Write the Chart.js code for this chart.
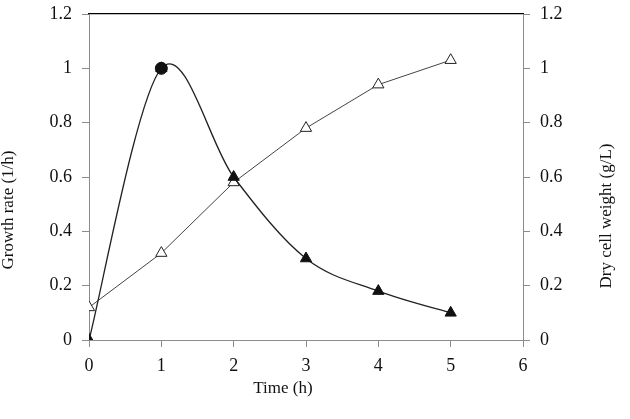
<!DOCTYPE html>
<html>
<head>
<meta charset="utf-8">
<script src="https://cdn.jsdelivr.net/npm/chart.js@4"></script>
<style>
  html, body { margin: 0; padding: 0; background: #fff; }
  #wrap { width: 630px; height: 419px; position: relative; }
</style>
</head>
<body>
<div id="wrap"><canvas id="chart"></canvas></div>
<script>
// Growth rate vs dry cell weight over time
const times = [0, 1, 2, 3, 4, 5];
const growthRate = [0, 1.0, 0.6, 0.3, 0.18, 0.1];
const dryCellWeight = [0.12, 0.32, 0.58, 0.78, 0.94, 1.03];
const peakMarker = [{ x: 1, y: 1.0 }];

const xTitle = "Time (h)";
const yLeftTitle = "Growth rate (1/h)";
const yRightTitle = "Dry cell weight (g/L)";

const FONT = "'Liberation Serif', 'Times New Roman', serif";
const AXIS_GRAY = "#8c8c8c";

// axis titles drawn by hand so they sit where the original figure put them
const axisTitles = {
  id: "axisTitles",
  afterDraw(chart) {
    const ctx = chart.ctx;
    const put = (text, x, y, rot) => {
      ctx.save();
      ctx.fillStyle = "#111";
      ctx.font = "17px " + FONT;
      ctx.textAlign = "center";
      ctx.textBaseline = "middle";
      ctx.translate(x, y);
      if (rot) ctx.rotate(rot);
      ctx.fillText(text, 0, 0);
      ctx.restore();
    };
    put(xTitle, 283, 389, 0);
    put(yLeftTitle, 9, 210, -Math.PI / 2);
    put(yRightTitle, 607, 216, -Math.PI / 2);
  },
};

// spreadsheet-style smoothing: uniform Catmull-Rom handles (1/6 of neighbour span)
// instead of Chart.js' distance-weighted ones, so the rise from 0 to 1 stays straight
const smoothCurve = {
  id: "smoothCurve",
  beforeDatasetDraw(chart, args) {
    const ds = chart.data.datasets[args.index];
    if (!ds.smooth) return;
    const line = args.meta.dataset;
    line.updateControlPoints(chart.chartArea, "x");
    const pts = args.meta.data;
    const n = pts.length;
    for (let i = 0; i < n; i++) {
      const prev = pts[Math.max(i - 1, 0)];
      const next = pts[Math.min(i + 1, n - 1)];
      const dx = (next.x - prev.x) / 6;
      const dy = (next.y - prev.y) / 6;
      pts[i].cp1x = pts[i].x - dx;
      pts[i].cp1y = pts[i].y - dy;
      pts[i].cp2x = pts[i].x + dx;
      pts[i].cp2y = pts[i].y + dy;
    }
  },
};

const tickFont = { family: FONT, size: 18 };
const fmt = (v) => String(+v.toFixed(1));
// fixed axis widths; drop the label overhang so the plot top sits at the padding
const fixY = (w) => (s) => { s.width = w; s.paddingTop = 0; s.paddingBottom = 0; };

new Chart(document.getElementById("chart"), {
  type: "line",
  data: {
    datasets: [
      {
        label: "peak",
        data: peakMarker,
        yAxisID: "y",
        showLine: false,
        pointStyle: "circle",
        pointRadius: 6,
        pointBackgroundColor: "#111",
        pointBorderColor: "#111",
        order: 0,
      },
      {
        label: yLeftTitle,
        data: times.map((t, i) => ({ x: t, y: growthRate[i] })),
        yAxisID: "y",
        smooth: true,
        borderColor: "#222",
        borderWidth: 1.3,
        tension: 0.4,
        pointStyle: "triangle",
        pointRadius: 6.5,
        pointBackgroundColor: "#111",
        pointBorderColor: "#111",
        pointBorderWidth: 1,
        order: 1,
      },
      {
        label: yRightTitle,
        data: times.map((t, i) => ({ x: t, y: dryCellWeight[i] })),
        yAxisID: "y2",
        borderColor: "#444",
        borderWidth: 1,
        tension: 0,
        pointStyle: "triangle",
        pointRadius: 6.5,
        pointBackgroundColor: "#fff",
        pointBorderColor: "#222",
        pointBorderWidth: 1,
        order: 2,
      },
    ],
  },
  options: {
    responsive: true,
    maintainAspectRatio: false,
    animation: false,
    layout: { padding: { top: 14, left: 0, right: 0, bottom: 0 } },
    plugins: { legend: { display: false }, tooltip: { enabled: false } },
    scales: {
      x: {
        type: "linear",
        position: "bottom",
        min: 0, max: 6,
        ticks: { stepSize: 1, color: "#111", font: tickFont, padding: 8 },
        grid: { drawOnChartArea: false, tickLength: 7, color: AXIS_GRAY },
        border: { color: AXIS_GRAY, width: 1 },
        afterFit: (s) => { s.height = 79; },
      },
      xTop: {
        type: "linear",
        position: "top",
        min: 0, max: 6,
        ticks: { display: false },
        grid: { drawOnChartArea: false, drawTicks: false },
        border: { color: "#000", width: 1.3 },
        afterFit: (s) => { s.height = 0; },
      },
      y: {
        position: "left",
        min: 0, max: 1.2,
        ticks: { stepSize: 0.2, color: "#111", font: tickFont, padding: 10, callback: fmt },
        grid: { drawOnChartArea: false, tickLength: 7, color: AXIS_GRAY },
        border: { color: AXIS_GRAY, width: 1 },
        afterFit: fixY(89),
      },
      y2: {
        position: "right",
        min: 0, max: 1.2,
        ticks: { stepSize: 0.2, color: "#111", font: tickFont, padding: 10, callback: fmt },
        grid: { drawOnChartArea: false, tickLength: 7, color: AXIS_GRAY },
        border: { color: AXIS_GRAY, width: 1 },
        afterFit: fixY(107),
      },
    },
  },
  plugins: [axisTitles, smoothCurve],
});
</script>
</body>
</html>
